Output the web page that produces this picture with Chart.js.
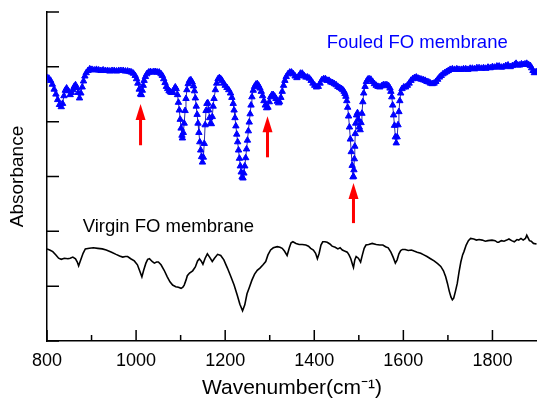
<!DOCTYPE html>
<html>
<head>
<meta charset="utf-8">
<script src="https://cdn.jsdelivr.net/npm/chart.js@4.4.0/dist/chart.umd.min.js"></script>
<style>
  html, body { margin: 0; padding: 0; background: #fff; }
</style>
</head>
<body>
<canvas id="chart" width="537" height="401"></canvas>
<script>
// Fouled FO membrane (blue, triangles)
const fouledX = [800,804,808,812,816,820,824,828,832,835,838,841,844,848,852,855,858,861,864,867,870,873,876,879,882,885,888,892,896,
  901,906,911,916,921,926,931,936,941,946,951,956,961,966,971,976,981,986,990,994,998,1001,1004,1007,1010,1012,1014,1016,1018,1021,1024,1028,
  1032,1036,1040,1044,1048,1052,1056,1059,1062,1065,1068,1071,1074,1077,1080,1083,1086,1088,1090,1093,1095,1097,1099,1101,1103,1104,1106,1108,
  1110,1112,1114,1117,1120,1123,1126,1129,1131,1133,1135,1137,1139,1141,1143,1145,1147,1149,1151,1153,1155,1157,1159,1161,1163,1165,1167,1169,
  1171,1173,1175,1178,1181,1184,1187,1190,1193,1196,1200,1204,1208,1212,1215,1218,1220,1222,1224,1226,1228,1230,1232,1234,1236,1238,1240,1242,
  1244,1246,1248,1250,1252,1254,1256,1258,1260,1263,1266,1269,1272,1275,1278,1281,1284,1287,1290,1293,1296,1299,1302,1305,1308,1311,1314,1317,
  1320,1322,1325,1328,1331,1334,1337,1341,1345,1349,1353,1357,1361,1365,1369,1373,1377,1381,1385,1389,1393,1397,1401,1405,1409,1413,1417,1421,
  1425,1429,1433,1437,1441,1445,1449,1453,1457,1461,1464,1467,1469,1471,1473,1475,1477,1479,1481,1483,1485,1487,1488,1489,1490,1491,1492,1493,
  1495,1497,1499,1501,1503,1505,1507,1509,1511,1514,1517,1520,1523,1527,1531,1535,1539,1543,1547,1551,1555,1559,1563,1567,1570,1572,1574,1576,
  1578,1580,1582,1584,1586,1588,1590,1592,1594,1597,1601,1605,1609,1613,1617,1621,1625,1629,1633,1637,1641,1645,1649,1653,1657,1661,1665,1669,
  1673,1677,1681,1685,1689,1693,1697,1701,1705,1710,1715,1720,1725,1730,1735,1740,1745,1750,1755,1760,1765,1770,1775,1780,1785,1790,1795,1800,
  1805,1810,1815,1820,1825,1830,1835,1840,1845,1850,1853,1857,1861,1865,1869,1873,1877,1881,1885,1888,1891,1894,1897,1900];
const fouledY = [4.80,4.79,4.75,4.68,4.59,4.50,4.40,4.31,4.27,4.33,4.47,4.57,4.61,4.56,4.49,4.53,4.58,4.64,4.67,4.62,4.53,4.43,4.52,4.63,4.74,4.83,4.89,4.93,4.96,
  4.95,4.94,4.95,4.94,4.93,4.94,4.93,4.93,4.92,4.93,4.93,4.92,4.93,4.93,4.93,4.92,4.92,4.91,4.90,4.88,4.84,4.78,4.70,4.59,4.50,4.49,4.57,4.66,4.75,4.82,4.87,4.90,
  4.91,4.90,4.91,4.91,4.90,4.90,4.87,4.84,4.78,4.71,4.64,4.60,4.56,4.54,4.53,4.53,4.60,4.63,4.60,4.49,4.35,4.21,4.04,3.88,3.75,3.70,3.80,3.97,
  4.20,4.42,4.58,4.69,4.75,4.76,4.72,4.65,4.56,4.43,4.28,4.13,3.97,3.80,3.63,3.48,3.36,3.26,3.35,3.60,3.94,4.20,4.33,4.34,4.21,4.07,3.97,3.96,
  4.09,4.28,4.42,4.58,4.70,4.78,4.80,4.78,4.75,4.70,4.66,4.62,4.58,4.52,4.44,4.33,4.21,4.07,3.92,3.77,3.63,3.48,3.33,3.19,3.08,2.99,2.97,3.06,
  3.19,3.34,3.50,3.66,3.83,3.99,4.14,4.30,4.45,4.57,4.64,4.68,4.69,4.66,4.61,4.55,4.47,4.38,4.30,4.25,4.26,4.36,4.45,4.49,4.49,4.46,4.42,4.37,
  4.34,4.36,4.44,4.55,4.66,4.75,4.82,4.87,4.90,4.90,4.87,4.83,4.80,4.83,4.88,4.88,4.84,4.81,4.81,4.79,4.75,4.70,4.66,4.63,4.64,4.70,4.76,4.78,
  4.78,4.75,4.75,4.72,4.71,4.69,4.67,4.64,4.62,4.60,4.58,4.55,4.51,4.46,4.38,4.26,4.10,3.90,3.68,3.45,3.20,2.99,3.00,3.12,3.32,3.55,3.78,3.97,
  4.12,4.16,4.04,3.90,3.85,3.98,4.15,4.36,4.52,4.64,4.73,4.77,4.78,4.77,4.73,4.69,4.66,4.64,4.63,4.65,4.67,4.67,4.67,4.65,4.61,4.55,4.45,4.30,
  4.12,3.93,3.72,3.61,3.72,3.94,4.18,4.38,4.52,4.60,4.63,4.63,4.66,4.70,4.75,4.78,4.80,4.81,4.79,4.78,4.77,4.76,4.75,4.73,4.72,4.70,4.69,4.70,
  4.73,4.77,4.81,4.84,4.87,4.89,4.91,4.93,4.95,4.96,4.95,4.96,4.95,4.95,4.96,4.96,4.95,4.97,4.97,4.96,4.98,4.98,4.97,4.98,4.97,4.99,4.98,5.00,
  4.99,5.01,5.01,4.99,5.00,5.02,5.03,5.00,5.02,5.04,5.06,5.03,5.03,5.05,5.04,5.05,5.06,5.04,5.02,4.98,4.93,4.89,4.90,4.91];

// Virgin FO membrane (black line)
const virginX = [800,806,813,820,826,832,839,847,852,858,864,868,871,874,877,881,886,895,904,914,924,933,945,955,963,970,976,981,988,996,
  1003,1008,1013,1017,1022,1026,1030,1036,1041,1046,1050,1056,1063,1070,1076,1082,1089,1095,1101,1105,1108,1112,1115,1120,1127,1133,1138,1142,
  1146,1150,1155,1160,1165,1171,1176,1183,1190,1197,1205,1212,1220,1227,1233,1239,1244,1249,1254,1260,1266,1272,1278,1285,1291,1296,1302,1308,
  1317,1323,1328,1333,1339,1344,1348,1352,1359,1366,1373,1381,1387,1392,1398,1403,1407,1411,1415,1419,1424,1429,1435,1440,1447,1453,1458,1463,
  1468,1474,1478,1482,1486,1488,1491,1494,1499,1504,1508,1512,1516,1522,1530,1539,1547,1554,1560,1566,1572,1577,1582,1586,1590,1594,1598,1604,
  1611,1618,1624,1631,1639,1646,1653,1661,1669,1677,1684,1690,1695,1699,1703,1707,1710,1713,1717,1721,1725,1729,1733,1736,1741,1746,1751,1758,
  1764,1770,1777,1784,1790,1799,1806,1811,1814,1820,1826,1832,1837,1843,1849,1855,1859,1864,1869,1874,1877,1880,1883,1887,1892,1899];
const virginY = [1.68,1.66,1.63,1.57,1.51,1.49,1.51,1.50,1.51,1.53,1.50,1.44,1.37,1.44,1.51,1.60,1.68,1.69,1.70,1.69,1.68,1.66,1.62,1.58,1.55,1.53,1.54,1.54,1.50,1.46,
  1.39,1.28,1.17,1.29,1.42,1.49,1.50,1.45,1.42,1.44,1.44,1.39,1.29,1.17,1.08,1.02,0.99,0.98,0.96,0.98,1.02,1.11,1.19,1.24,1.28,1.35,1.46,1.50,
  1.46,1.40,1.51,1.59,1.53,1.45,1.51,1.58,1.56,1.48,1.33,1.19,1.02,0.84,0.67,0.55,0.66,0.86,0.97,1.11,1.22,1.29,1.33,1.39,1.45,1.57,1.66,1.70,
  1.72,1.71,1.69,1.64,1.56,1.70,1.79,1.81,1.78,1.76,1.76,1.75,1.73,1.69,1.66,1.60,1.50,1.60,1.75,1.81,1.81,1.80,1.77,1.73,1.71,1.68,1.70,1.66,
  1.64,1.62,1.57,1.50,1.39,1.34,1.48,1.54,1.51,1.44,1.57,1.69,1.75,1.76,1.78,1.76,1.75,1.75,1.72,1.70,1.62,1.53,1.42,1.48,1.59,1.65,1.67,1.67,
  1.65,1.66,1.64,1.62,1.60,1.57,1.54,1.50,1.46,1.41,1.36,1.28,1.17,1.05,0.91,0.80,0.75,0.78,0.91,1.05,1.26,1.44,1.57,1.63,1.75,1.83,1.87,1.86,
  1.84,1.85,1.84,1.82,1.83,1.84,1.83,1.80,1.80,1.83,1.82,1.84,1.86,1.83,1.81,1.85,1.84,1.87,1.84,1.87,1.93,1.88,1.83,1.82,1.78,1.77];

// Axes
const xTicks = [800, 1000, 1200, 1400, 1600, 1800];
const xMinorTicks = [900, 1100, 1300, 1500, 1700];
const yTicks = [0, 1, 2, 3, 4, 5, 6];

// Red arrows (wavenumber, tip, tail)
const arrowX = [1010, 1295, 1488];
const arrowTip = [4.32, 4.10, 2.88];
const arrowTail = [3.57, 3.35, 2.15];

const FONT = '"Liberation Sans", Arial, sans-serif';
Chart.defaults.font.family = FONT;
Chart.defaults.color = '#000';

function toPoints(xs, ys) {
    return xs.map((x, i) => ({ x: x, y: ys[i] }));
}

// Ticks drawn inward, arrows and curve labels
const extras = {
    id: 'extras',
    afterDatasetsDraw(chart) {
        const ctx = chart.ctx;
        const xs = chart.scales.x;
        const ys = chart.scales.y;
        ctx.save();

        ctx.strokeStyle = '#000';
        ctx.lineWidth = 1.5;
        ctx.beginPath();
        xTicks.forEach(v => {
            const px = xs.getPixelForValue(v);
            ctx.moveTo(px, ys.bottom);
            ctx.lineTo(px, ys.bottom - 11);
        });
        xMinorTicks.forEach(v => {
            const px = xs.getPixelForValue(v);
            ctx.moveTo(px, ys.bottom);
            ctx.lineTo(px, ys.bottom - 6);
        });
        yTicks.forEach(v => {
            const py = ys.getPixelForValue(v);
            ctx.moveTo(xs.left, py);
            ctx.lineTo(xs.left + 12, py);
        });
        ctx.stroke();

        // arrows
        ctx.fillStyle = '#ff0000';
        arrowX.forEach((v, i) => {
            const px = xs.getPixelForValue(v);
            const tip = ys.getPixelForValue(arrowTip[i]);
            const tail = ys.getPixelForValue(arrowTail[i]);
            ctx.fillRect(px - 1.5, tip + 12, 3, tail - tip - 12);
            ctx.beginPath();
            ctx.moveTo(px, tip);
            ctx.lineTo(px + 5, tip + 16);
            ctx.lineTo(px - 5, tip + 16);
            ctx.closePath();
            ctx.fill();
        });

        // curve labels
        ctx.font = '18.5px ' + FONT;
        ctx.textBaseline = 'alphabetic';
        ctx.textAlign = 'left';
        ctx.fillStyle = '#0000ff';
        ctx.fillText('Fouled FO membrane', xs.getPixelForValue(1428), ys.getPixelForValue(5.35));
        ctx.fillStyle = '#000';
        ctx.fillText('Virgin FO membrane', xs.getPixelForValue(880), ys.getPixelForValue(1.99));
        ctx.restore();
    }
};

new Chart(document.getElementById('chart'), {
    type: 'line',
    data: {
        datasets: [
            {
                label: 'Fouled FO membrane',
                data: toPoints(fouledX, fouledY),
                borderColor: '#2a2aa8',
                borderWidth: 1,
                pointStyle: 'triangle',
                pointRadius: 3.7,
                pointBackgroundColor: '#0000ff',
                pointBorderColor: '#0000ff',
                pointBorderWidth: 1,
                tension: 0
            },
            {
                label: 'Virgin FO membrane',
                data: toPoints(virginX, virginY),
                borderColor: '#000',
                borderWidth: 1.6,
                pointRadius: 0,
                tension: 0
            }
        ]
    },
    options: {
        responsive: false,
        animation: false,
        devicePixelRatio: 1,
        layout: { autoPadding: false, padding: { top: 12, right: 0, left: 0, bottom: 0 } },
        plugins: { legend: { display: false }, tooltip: { enabled: false } },
        scales: {
            x: {
                type: 'linear',
                min: 800,
                max: 1900,
                afterBuildTicks: s => { s.ticks = xTicks.map(v => ({ value: v })); },
                afterFit: s => { s.height = 60; s.paddingLeft = 0; s.paddingRight = 0; },
                grid: { display: false, drawTicks: false },
                border: { display: true, color: '#000', width: 1.5 },
                ticks: { padding: 9, maxRotation: 0, font: { size: 18 }, callback: v => String(v) },
                title: {
                    display: true,
                    text: 'Wavenumber(cm\u207B\u00B9)',
                    font: { size: 21 },
                    padding: { top: 0, bottom: 0 }
                }
            },
            y: {
                type: 'linear',
                min: 0,
                max: 6,
                afterBuildTicks: s => { s.ticks = yTicks.map(v => ({ value: v })); },
                afterFit: s => { s.width = 47; },
                grid: { display: false, drawTicks: false },
                border: { display: true, color: '#000', width: 1.5 },
                ticks: { display: false },
                title: {
                    display: true,
                    text: 'Absorbance',
                    font: { size: 19 },
                    padding: { top: 6, bottom: 0 }
                }
            }
        }
    },
    plugins: [extras]
});
</script>
</body>
</html>
